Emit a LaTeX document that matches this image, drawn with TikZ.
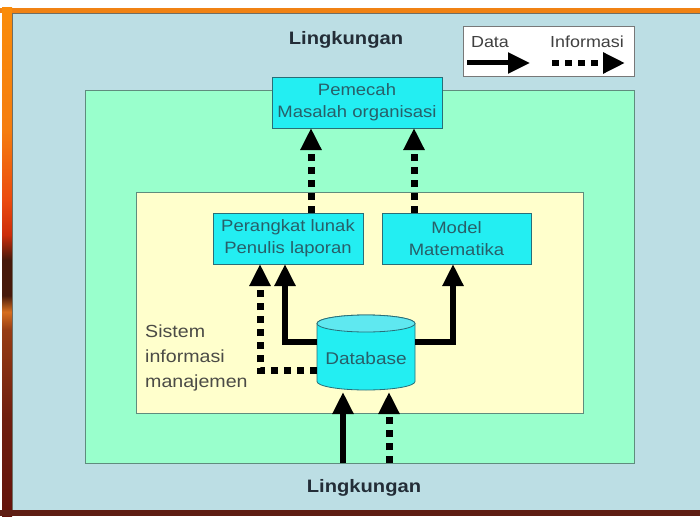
\documentclass[tikz,border=0pt]{standalone}
\usepackage{fontspec}
\setmainfont[FakeStretch=1.12]{Liberation Sans}
\usetikzlibrary{arrows.meta,calc}

% palette
\definecolor{panelblue}{RGB}{188,222,228}
\definecolor{outergreen}{RGB}{153,255,204}
\definecolor{innercream}{RGB}{255,255,204}
\definecolor{regionedge}{RGB}{95,140,125}
\definecolor{unitfill}{RGB}{35,238,242}
\definecolor{cyltop}{RGB}{95,232,240}
\definecolor{unitedge}{RGB}{40,110,120}
\definecolor{unittext}{RGB}{40,95,105}
\definecolor{captiontext}{RGB}{35,45,55}
\definecolor{mistext}{RGB}{75,75,70}
\definecolor{legendedge}{RGB}{120,120,120}
\definecolor{framebar}{RGB}{240,130,20}
\definecolor{bottombar}{RGB}{95,30,20}
\definecolor{panelline}{RGB}{110,110,100}
% left frame strip colours, top to bottom
\definecolor{stripO}{RGB}{250,140,10}
\definecolor{stripA}{RGB}{245,125,15}
\definecolor{stripB}{RGB}{235,75,15}
\definecolor{stripR}{RGB}{205,45,10}
\definecolor{stripK}{RGB}{70,25,10}
\definecolor{stripL}{RGB}{215,110,30}
\definecolor{stripM}{RGB}{150,60,20}
\definecolor{stripN}{RGB}{110,30,15}
\definecolor{stripD}{RGB}{100,18,10}

\pgfdeclareverticalshading{leftstrip}{100bp}{%
  color(0bp)=(stripD); color(25bp)=(stripD); color(34.4bp)=(stripN);
  color(43.3bp)=(stripM); color(45.1bp)=(stripL); color(46.7bp)=(stripK);
  color(50.2bp)=(stripK); color(52.7bp)=(stripR); color(56.1bp)=(stripB);
  color(63bp)=(stripA); color(75bp)=(stripO); color(100bp)=(stripO)}

\begin{document}
\begin{tikzpicture}[x=1pt,y=-1pt,
  region/.style={draw=regionedge, line width=1pt, inner sep=0pt, outer sep=0pt},
  unit/.style={draw=unitedge, fill=unitfill, line width=0.8pt, inner sep=0pt,
    outer sep=0pt, minimum height=51pt, text=unittext, align=center,
    font=\fontsize{16.5}{22}\selectfont},
  caption/.style={text=captiontext, font=\fontsize{18}{22}\selectfont\bfseries},
  legendtext/.style={text=black!75, font=\fontsize{16}{20}\selectfont},
  dataflow/.style={line width=6pt, -{Triangle[width=20pt,length=22pt]}},
  infoflow/.style={line width=7pt, dash pattern=on 7pt off 6pt,
    -{Triangle[width=20pt,length=22pt]}},
]
\useasboundingbox (0,0) rectangle (700,516);

% frame and panel
\fill[white] (0,0) rectangle (700,516);
\fill[framebar] (0,8) rectangle (700,13);
\shade[shading=leftstrip] (2,8) rectangle (12,516);
\fill[bottombar] (0,510) rectangle (700,516);
\fill[panelblue] (12,13) rectangle (700,510);
\draw[panelline, line width=0.8pt] (12,510) -- (12,13) -- (700,13);

% nested regions
\node[region, fill=outergreen, minimum width=549pt, minimum height=372pt] (org) at (359.5,277) {};
\node[region, fill=innercream, minimum width=447pt, minimum height=221pt] (mis) at (359.5,302.5) {};

% units
\node[unit, minimum width=170pt] (pm) at (357,102.5) {Pemecah\\Masalah organisasi};
\node[unit, minimum width=150pt] (pk) at (288,238.5) {Perangkat lunak\\Penulis laporan};
\node[unit, minimum width=149pt] (md) at (456.5,238.5) {Model\\Matematika};

% database cylinder
\node[minimum width=98pt, minimum height=75pt, inner sep=0pt, outer sep=0pt] (db) at (366,352.5) {};
\path[draw=unitedge, fill=unitfill, line width=0.8pt]
  (317,323.5) -- (317,381.5)
  arc[start angle=180, end angle=360, x radius=49pt, y radius=8.5pt]
  -- (415,323.5)
  arc[start angle=0, end angle=180, x radius=49pt, y radius=8.5pt] -- cycle;
\draw[unitedge, fill=cyltop, line width=0.8pt] (366,323.5) ellipse [x radius=49pt, y radius=8.5pt];
\node[text=unittext, font=\fontsize{17}{20}\selectfont] (dblabel) at (366,358) {Database};

% labels
\node[anchor=west, align=left, inner sep=0pt, text=mistext,
  font=\fontsize{17.5}{25}\selectfont] (mislabel) at (145,358) {Sistem\\informasi\\manajemen};
\node[caption] (envtop) at (346,40) {Lingkungan};
\node[caption] (envbottom) at (364,488) {Lingkungan};

% legend
\node[draw=legendedge, fill=white, line width=1pt, minimum width=171pt,
  minimum height=50pt, inner sep=0pt] (legend) at (548.5,52) {};
\node[legendtext] (ldata) at (490,42) {Data};
\node[legendtext] (linfo) at (587,42) {Informasi};
\coordinate (ld1) at (467,63);
\coordinate (ld2) at (530,63);
\coordinate (li1) at (552,63);
\coordinate (li2) at (625,63);
\draw[dataflow, line width=5pt] (ld1) -- (ld2);
\draw[infoflow, line width=6pt] (li1) -- (li2);

% flows
\draw[infoflow] ([xshift=23pt]pk.north) -- ([xshift=23pt]pk.north |- pm.south);
\draw[infoflow] ([xshift=-42.5pt]md.north) -- ([xshift=-42.5pt]md.north |- pm.south);
\draw[dataflow] ([yshift=10.5pt]db.west) -| ([xshift=-3pt]pk.south);
\draw[infoflow] ([yshift=-17.5pt]db.west) -| ([xshift=-28pt]pk.south);
\draw[dataflow] ([yshift=10.5pt]db.east) -| ([xshift=-3.5pt]md.south);
\coordinate (insolid) at (343,463);
\coordinate (indotted) at (389,463);
\draw[dataflow] (insolid) -- ([yshift=-2pt]insolid |- db.south);
\draw[infoflow] (indotted) -- ([yshift=-2pt]indotted |- db.south);
\end{tikzpicture}
\end{document}
